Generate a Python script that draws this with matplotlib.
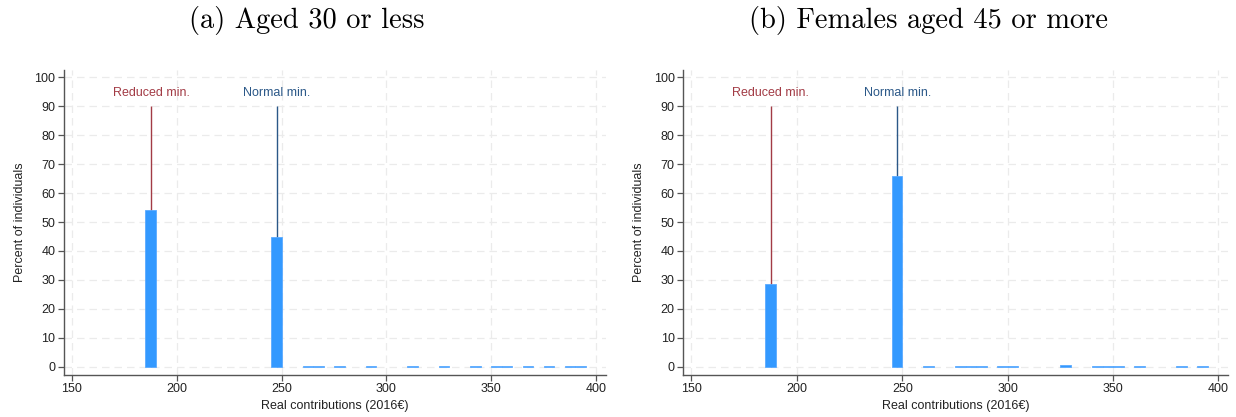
import matplotlib
matplotlib.use("Agg")
import matplotlib.pyplot as plt
import numpy as np

# Data: left edges of 5-euro bins and percent of individuals
bins_a = [185, 245, 260, 265, 275, 290, 310, 325, 340, 350, 355, 365, 375, 385, 390]
pct_a = [54.3, 45.0, 0.3, 0.3, 0.3, 0.3, 0.3, 0.2, 0.3, 0.3, 0.3, 0.3, 0.3, 0.3, 0.3]

bins_b = [185, 245, 260, 275, 280, 285, 295, 300, 325, 340, 345, 350, 360, 380, 390]
pct_b = [28.5, 66.0, 0.2, 0.3, 0.3, 0.3, 0.3, 0.3, 0.6, 0.3, 0.3, 0.3, 0.3, 0.3, 0.3]

bin_width = 5
reduced_min = 187.7
normal_min = 247.6
line_top = 90
titles = ["(a) Aged 30 or less", "(b) Females aged 45 or more"]
xticks = [150, 200, 250, 300, 350, 400]
yticks = list(range(0, 101, 10))

plt.rcParams['font.family'] = ['Liberation Sans', 'DejaVu Sans']

fig = plt.figure(figsize=(12.36, 4.17), dpi=100)
positions = [[0.0514, 0.1007, 0.4386, 0.731], [0.5526, 0.1007, 0.4409, 0.731]]
title_x = [0.248, 0.751]

bar_color = '#3399ff'
red = '#a23b45'
blue = '#2b5888'

for i, (bins, pct) in enumerate([(bins_a, pct_a), (bins_b, pct_b)]):
    ax = fig.add_axes(positions[i])
    ax.set_xlim(146, 404.5)
    ax.set_ylim(-2.8, 102.4)
    ax.grid(True, color='#ebebeb', linestyle=(0, (6, 4)), linewidth=0.9)
    ax.set_axisbelow(True)
    ax.vlines([reduced_min], 0, line_top, color=red, linewidth=1.0, zorder=2)
    ax.vlines([normal_min], 0, line_top, color=blue, linewidth=1.0, zorder=2)
    ax.bar(bins, pct, width=bin_width, align='edge', color=bar_color,
           edgecolor='#5aaaff', linewidth=0.6, zorder=3)
    ax.text(reduced_min, 94.6, "Reduced min.", color=red, ha='center', va='center', fontsize=9)
    ax.text(normal_min, 94.6, "Normal min.", color=blue, ha='center', va='center', fontsize=9)
    ax.set_xticks(xticks)
    ax.set_yticks(yticks)
    for s in ['top', 'right']:
        ax.spines[s].set_visible(False)
    for s in ['left', 'bottom']:
        ax.spines[s].set_color('#555555')
        ax.spines[s].set_linewidth(1.0)
    ax.tick_params(axis='both', labelsize=9, length=4, width=0.9, color='#555555', labelcolor='#222222', pad=2)
    ax.set_xlabel("Real contributions (2016€)", fontsize=9, labelpad=3, color='#222222')
    ax.set_ylabel("Percent of individuals", fontsize=9, labelpad=6, color='#222222')
    fig.text(title_x[i], 0.952, titles[i], ha='center', va='center',
             fontsize=20.5, family='cmr10')

fig.savefig("out.png", dpi=100)
